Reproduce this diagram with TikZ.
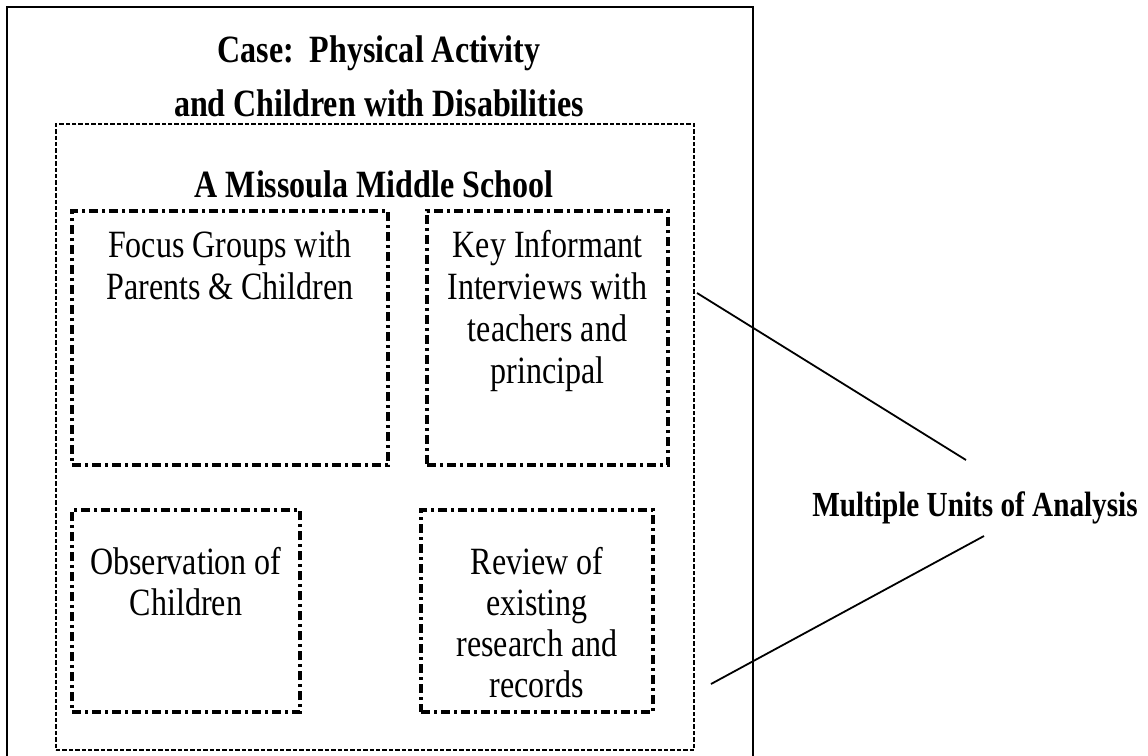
\documentclass[tikz,border=0pt]{standalone}
\usepackage{fontspec}
\setmainfont{Liberation Serif}[FakeStretch=0.83]
\newcommand{\topstrut}{\rule{0pt}{16pt}}
\begin{document}
\begin{tikzpicture}[x=0.5pt,y=-0.5pt,
  outerbox/.style={line width=1.1pt},
  casebox/.style={draw,line width=1.1pt,dash pattern=on 2.2pt off 1pt,inner sep=0pt},
  unitbox/.style={draw,line width=1.6pt,dash pattern=on 4.5pt off 2pt on 1.5pt off 2pt,inner sep=0pt},
  body/.style={font=\fontsize{19.3}{21}\selectfont,align=center,inner sep=0pt,anchor=north},
  body2/.style={font=\fontsize{19.3}{20.5}\selectfont,align=center,inner sep=0pt,anchor=north},
  titletext/.style={font=\fontsize{19.3}{27}\selectfont\bfseries,align=center,inner sep=0pt,anchor=north},
  link/.style={line width=0.9pt}]
\useasboundingbox (0,0) rectangle (1148,756);
\clip (0,0) rectangle (1148,756);
% outer case frame (bottom edge outside the picture)
\draw[outerbox] (7,780) -- (7,7) -- (753,7) -- (753,780);
% school frame
\node[casebox,minimum width=319pt,minimum height=313pt] (school) at (375,437) {};
% unit boxes
\node[unitbox,minimum width=158pt,minimum height=127pt] (focus) at (230,338) {};
\node[unitbox,minimum width=120.5pt,minimum height=127pt] (key) at (547.5,338) {};
\node[unitbox,minimum width=114pt,minimum height=101pt] (obs) at (186,611) {};
\node[unitbox,minimum width=116pt,minimum height=101pt] (rev) at (537,611) {};
% texts (north anchor = first baseline - 32)
\node[titletext] (casetitle) at (379,30) {\topstrut Case:\ \ Physical Activity\\and Children with Disabilities};
\node[titletext] (schooltitle) at (374,165) {\topstrut A Missoula Middle School};
\node[body] (focustext) at (230,225) {\topstrut Focus Groups with\\Parents \& Children};
\node[body] (keytext) at (547.5,225) {\topstrut Key Informant\\Interviews with\\teachers and\\principal};
\node[body2] (obstext) at (186,542) {\topstrut Observation of\\Children};
\node[body2] (revtext) at (537,542) {\topstrut Review of\\existing\\research and\\records};
\node[font=\fontsize{17.6}{20}\selectfont\bfseries,inner sep=0pt,anchor=base] (multi) at (975,516) {Multiple Units of Analysis};
% connectors
\coordinate (l1a) at (697,293);
\coordinate (l1b) at (966,460);
\coordinate (l2a) at (711,684);
\coordinate (l2b) at (984,536);
\draw[link] (l1a) -- (l1b);
\draw[link] (l2a) -- (l2b);
\end{tikzpicture}
\end{document}
